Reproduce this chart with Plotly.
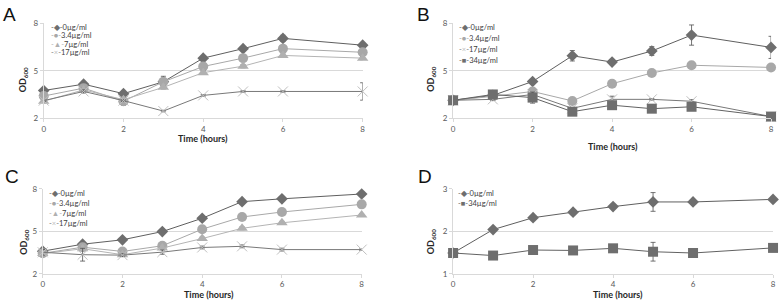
import plotly.graph_objects as go

W, H = 781, 304

# ---------------- data ----------------
time = [0, 1, 2, 3, 4, 5, 6, 8]

# Panel A
a_names = ["0µg/ml", "3.4µg/ml", "7µg/ml", "17µg/ml"]
a_0 = [3.75, 4.15, 3.55, 4.30, 5.80, 6.40, 7.05, 6.62]
a_3_4 = [3.40, 3.90, 3.07, 4.30, 5.27, 5.80, 6.40, 6.17]
a_7 = [3.07, 3.79, 3.17, 3.95, 4.88, 5.29, 5.97, 5.80]
a_17 = [3.11, 3.69, 3.11, 2.45, 3.44, 3.69, 3.69, 3.69]
a_0_err = [0.10, 0.15, 0.10, 0.10, 0.10, 0.10, 0.20, 0.10]
a_3_4_err = [0.10, 0.10, 0.25, 0.35, 0.10, 0.10, 0.10, 0.10]
a_7_err = [0.10, 0.10, 0.10, 0.10, 0.10, 0.10, 0.10, 0.10]
a_17_err = [0.05, 0.10, 0.05, 0.05, 0.05, 0.05, 0.05, 0.55]

# Panel B
b_names = ["0µg/ml", "3.4µg/ml", "17µg/ml", "34µg/ml"]
b_0 = [3.13, 3.44, 4.32, 5.95, 5.55, 6.25, 7.26, 6.48]
b_3_4 = [3.13, 3.38, 3.69, 3.09, 4.18, 4.86, 5.35, 5.21]
b_17 = [3.13, 3.19, 3.50, 2.62, 3.19, 3.19, 3.07, 2.10]
b_34 = [3.13, 3.50, 3.30, 2.41, 2.82, 2.60, 2.72, 2.10]
b_0_err = [0.05, 0.10, 0.10, 0.33, 0.10, 0.28, 0.64, 0.70]
b_3_4_err = [0.05, 0.05, 0.05, 0.05, 0.05, 0.05, 0.05, 0.05]
b_17_err = [0.05, 0.05, 0.10, 0.05, 0.20, 0.05, 0.10, 0.05]
b_34_err = [0.05, 0.10, 0.35, 0.05, 0.10, 0.05, 0.05, 0.05]

# Panel C
c_names = ["0µg/ml", "3.4µg/ml", "7µg/ml", "17µg/ml"]
c_0 = [3.60, 4.09, 4.40, 4.98, 5.92, 7.09, 7.29, 7.63]
c_3_4 = [3.45, 3.88, 3.58, 3.98, 5.15, 6.01, 6.36, 6.90]
c_7 = [3.43, 3.77, 3.35, 3.82, 4.49, 5.21, 5.60, 6.15]
c_17 = [3.52, 3.35, 3.32, 3.53, 3.86, 3.94, 3.71, 3.71]
c_0_err = [0.15, 0.10, 0.10, 0.10, 0.10, 0.10, 0.10, 0.10]
c_3_4_err = [0.10, 0.10, 0.10, 0.10, 0.15, 0.10, 0.10, 0.10]
c_7_err = [0.10, 0.10, 0.10, 0.10, 0.10, 0.10, 0.10, 0.10]
c_17_err = [0.20, 0.45, 0.10, 0.15, 0.10, 0.10, 0.10, 0.05]

# Panel D
d_names = ["0µg/ml", "34µg/ml"]
d_0 = [1.49, 2.04, 2.32, 2.45, 2.58, 2.69, 2.69, 2.75]
d_34 = [1.49, 1.43, 1.56, 1.55, 1.60, 1.52, 1.49, 1.61]
d_0_err = [0.02, 0.03, 0.03, 0.03, 0.03, 0.22, 0.02, 0.03]
d_34_err = [0.02, 0.02, 0.02, 0.02, 0.02, 0.22, 0.02, 0.02]

x_ticks = [0, 2, 4, 6, 8]
y_ticks_abc = [2, 5, 8]
y_ticks_d = [1, 2, 3]

# ---------------- styles ----------------
FONT = "Lato, Carlito, Calibri, sans-serif"
STY = {
    "diamond": dict(symbol="diamond", size=9, color="#6e6e6e", line="#5f5f5f", glyph="◆"),
    "circle": dict(symbol="circle", size=10, color="#a8a8a8", line="#a8a8a8", glyph="●"),
    "triangle": dict(symbol="triangle-up", size=10, color="#b0b0b0", line="#b4b4b4", glyph="▲"),
    "x": dict(symbol="x-thin-open", size=10, color="#c0c0c0", line="#787878", glyph="×"),
    "square": dict(symbol="square", size=10, color="#6e6e6e", line="#626262", glyph="■"),
}


def px_x(p):
    return p / W


def px_y(p):
    return 1 - p / H


panels = [
    dict(ax="", xd=(42, 363), yd=(19, 117), yr=[2, 8], yt=y_ticks_abc,
         series=[(a_names[0], a_0, a_0_err, "diamond"), (a_names[1], a_3_4, a_3_4_err, "circle"),
                 (a_names[2], a_7, a_7_err, "triangle"), (a_names[3], a_17, a_17_err, "x")],
         letter=("A", 8, 10), leg=(47, 23, 8.7), xt=(202, 138), yt_pos=(22, 77)),
    dict(ax="2", xd=(454, 774), yd=(19, 117), yr=[2, 8], yt=y_ticks_abc,
         series=[(b_names[0], b_0, b_0_err, "diamond"), (b_names[1], b_3_4, b_3_4_err, "circle"),
                 (b_names[2], b_17, b_17_err, "x"), (b_names[3], b_34, b_34_err, "square")],
         letter=("B", 424, 10), leg=(458, 23, 11.5), xt=(615, 146), yt_pos=(432, 77)),
    dict(ax="3", xd=(41, 362), yd=(190, 278), yr=[2, 8], yt=y_ticks_abc,
         series=[(c_names[0], c_0, c_0_err, "diamond"), (c_names[1], c_3_4, c_3_4_err, "circle"),
                 (c_names[2], c_7, c_7_err, "triangle"), (c_names[3], c_17, c_17_err, "x")],
         letter=("C", 10, 177), leg=(45, 195, 10.3), xt=(208, 299.5), yt_pos=(22, 245)),
    dict(ax="4", xd=(454, 776), yd=(190, 278), yr=[1, 3], yt=y_ticks_d,
         series=[(d_names[0], d_0, d_0_err, "diamond"), (d_names[1], d_34, d_34_err, "square")],
         letter=("D", 426, 177), leg=(457, 195, 10.0), xt=(620, 299.5), yt_pos=(432, 245)),
]

fig = go.Figure()
layout = dict(
    width=W, height=H, margin=dict(l=0, r=0, t=0, b=0),
    paper_bgcolor="white", plot_bgcolor="white", showlegend=False,
    font=dict(family=FONT, size=8, color="#595959"),
)
annotations = []

for p in panels:
    xa = "x" + p["ax"]
    ya = "y" + p["ax"]
    for name, vals, err, sk in p["series"]:
        s = STY[sk]
        mline = dict(width=1, color=s["color"]) if sk == "x" else dict(width=0)
        fig.add_trace(go.Scatter(
            x=time, y=vals, name=name, mode="lines+markers",
            xaxis=xa, yaxis=ya, cliponaxis=False,
            line=dict(color=s["line"], width=1),
            marker=dict(symbol=s["symbol"], size=s["size"], color=s["color"], line=mline),
            error_y=dict(type="data", array=err, visible=True, color="#505050",
                         thickness=0.8, width=2.5),
        ))
    layout["xaxis" + p["ax"]] = dict(
        domain=[px_x(p["xd"][0]), px_x(p["xd"][1])], anchor=ya,
        range=[0, 8], tickvals=x_ticks, showgrid=False, zeroline=False,
        showline=True, linecolor="#d9d9d9", linewidth=1,
        ticks="outside", ticklen=3, tickcolor="#d9d9d9",
        tickfont=dict(family=FONT, size=8, color="#595959"),
    )
    layout["yaxis" + p["ax"]] = dict(
        domain=[px_y(p["yd"][1]), px_y(p["yd"][0])], anchor=xa,
        range=p["yr"], tickvals=p["yt"], showgrid=True, gridcolor="#d9d9d9",
        gridwidth=1, zeroline=False,
        showline=True, linecolor="#d9d9d9", linewidth=1,
        ticks="outside", ticklen=3, tickcolor="#d9d9d9",
        tickfont=dict(family=FONT, size=8, color="#595959"),
    )
    lt, lx, ly = p["letter"]
    annotations.append(dict(text=lt, x=px_x(lx), y=px_y(ly), xref="paper", yref="paper",
                            showarrow=False, xanchor="center", yanchor="middle",
                            font=dict(family="Liberation Sans, Arial, sans-serif", size=19, color="#111111")))
    tx, ty = p["xt"]
    annotations.append(dict(text="<b>Time (hours)</b>", x=px_x(tx), y=px_y(ty), xref="paper", yref="paper",
                            showarrow=False, xanchor="center", yanchor="middle",
                            font=dict(family=FONT, size=9, color="#262626")))
    yx, yy = p["yt_pos"]
    annotations.append(dict(text="<b>OD<sub>600</sub></b>", x=px_x(yx), y=px_y(yy), xref="paper", yref="paper",
                            showarrow=False, xanchor="center", yanchor="middle", textangle=-90,
                            font=dict(family=FONT, size=9, color="#262626")))
    gx, gy, gs = p["leg"]
    for i, (name, vals, err, sk) in enumerate(p["series"]):
        s = STY[sk]
        txt = (f"<span style='color:{s['line']}'>-</span>"
               f"<span style='color:{s['color']}'>{s['glyph']}</span>"
               f"<span style='color:{s['line']}'>-</span>"
               f"<span style='color:#404040'>{name}</span>")
        annotations.append(dict(text=txt, x=px_x(gx), y=px_y(gy + i * gs), xref="paper", yref="paper",
                                showarrow=False, xanchor="left", yanchor="middle",
                                font=dict(family=FONT, size=7.5, color="#404040")))

layout["annotations"] = annotations
fig.update_layout(**layout)
fig.write_html("out.html", config={"displayModeBar": False},
               post_script="document.body.style.margin='0';document.body.style.overflow='hidden';")
